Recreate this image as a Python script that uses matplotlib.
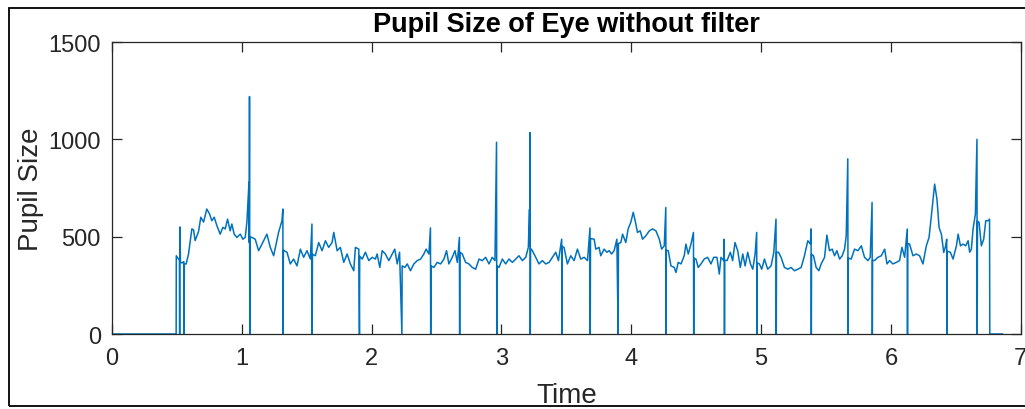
import matplotlib
matplotlib.use("Agg")
import matplotlib.pyplot as plt
from matplotlib.patches import Rectangle

# Pupil trace, split in segments (time, size)
t_a = [0, 0.494, 0.495, 0.512, 0.519, 0.521, 0.523, 0.527, 0.538, 0.553, 0.555, 0.557, 0.571, 0.589,
       0.615, 0.628, 0.640, 0.666, 0.684, 0.705, 0.730, 0.751, 0.769, 0.787, 0.808, 0.833, 0.854, 0.872,
       0.890, 0.910, 0.923, 0.941, 0.962, 0.988, 1.008, 1.026, 1.039, 1.055, 1.057, 1.059, 1.061, 1.063,
       1.078]
p_a = [0, 0, 402, 385, 380, 0, 550, 370, 365, 372, 0, 360, 360, 410,
       540, 535, 480, 525, 600, 575, 642, 617, 582, 600, 556, 513, 548, 540,
       590, 530, 565, 513, 496, 513, 487, 496, 575, 780, 470, 1220, 0, 500,
       496]

t_b = [1.103, 1.129, 1.155, 1.193, 1.219, 1.245, 1.283, 1.309, 1.316, 1.318, 1.320, 1.348, 1.373, 1.399,
       1.425, 1.451, 1.476, 1.502, 1.528, 1.540, 1.542, 1.544, 1.566, 1.592, 1.618, 1.644, 1.669, 1.695,
       1.708, 1.734, 1.759, 1.785, 1.811, 1.836, 1.862, 1.875, 1.901, 1.906, 1.908, 1.927, 1.952, 1.978,
       2.004, 2.029, 2.042, 2.063]
p_b = [487, 428, 462, 513, 445, 402, 522, 582, 642, 0, 430, 420, 360, 385,
       350, 436, 394, 428, 385, 565, 0, 410, 402, 470, 428, 479, 445, 470,
       522, 428, 445, 368, 411, 360, 325, 445, 436, 0, 400, 385, 420, 377,
       394, 385, 411, 342]

t_c = [2.081, 2.106, 2.132, 2.158, 2.178, 2.197, 2.215, 2.233, 2.235, 2.256, 2.274, 2.299, 2.325, 2.351,
       2.377, 2.402, 2.420, 2.441, 2.453, 2.455, 2.457, 2.479, 2.505, 2.531, 2.557, 2.577, 2.595, 2.621,
       2.642, 2.660, 2.676, 2.678, 2.680, 2.698, 2.724, 2.749, 2.775, 2.801, 2.827, 2.852, 2.878, 2.904,
       2.929, 2.950, 2.962, 2.964, 2.966, 2.981, 3.007, 3.032, 3.058, 3.084, 3.110, 3.135, 3.161, 3.187,
       3.207, 3.216, 3.218, 3.220, 3.222, 3.224, 3.238, 3.264, 3.289, 3.315, 3.341, 3.367, 3.393, 3.418,
       3.439, 3.464, 3.466, 3.468, 3.482, 3.508, 3.534, 3.560, 3.585, 3.611, 3.637, 3.663, 3.682, 3.684,
       3.686]
p_c = [428, 411, 377, 411, 436, 360, 420, 0, 350, 342, 360, 325, 360, 377,
       385, 411, 436, 411, 545, 0, 350, 342, 368, 360, 385, 428, 360, 394,
       428, 368, 496, 0, 420, 411, 368, 360, 342, 333, 385, 377, 394, 360,
       394, 377, 985, 0, 350, 342, 385, 360, 385, 368, 385, 402, 377, 394,
       445, 640, 450, 1035, 0, 440, 428, 394, 360, 377, 360, 368, 394, 420,
       377, 487, 0, 450, 445, 360, 402, 377, 436, 385, 394, 377, 545, 0,
       490]

t_d = [3.714, 3.727, 3.752, 3.765, 3.791, 3.812, 3.830, 3.848, 3.868, 3.889, 3.899, 3.901, 3.920, 3.933,
       3.958, 3.976, 3.997, 4.015, 4.030, 4.048, 4.069, 4.087, 4.113, 4.139, 4.164, 4.190, 4.216, 4.234,
       4.254, 4.266, 4.268, 4.270, 4.285, 4.306, 4.331, 4.344, 4.362, 4.383, 4.408, 4.421, 4.439, 4.460,
       4.479, 4.481, 4.483, 4.498, 4.516, 4.537, 4.562, 4.588, 4.614, 4.635, 4.660, 4.678, 4.691, 4.712,
       4.716, 4.718, 4.720, 4.738, 4.763, 4.781, 4.799, 4.820, 4.840, 4.859, 4.877, 4.897, 4.918, 4.936,
       4.954, 4.966, 4.968, 4.970, 4.987, 5.005, 5.026, 5.051, 5.077, 5.098, 5.115, 5.117, 5.119, 5.134,
       5.154, 5.180, 5.206, 5.231, 5.257, 5.283, 5.309, 5.334, 5.360, 5.380]
p_d = [487, 436, 445, 402, 436, 420, 428, 411, 428, 487, 0, 465, 470, 513,
       470, 540, 575, 625, 582, 522, 530, 487, 505, 530, 540, 530, 487, 436,
       453, 650, 0, 430, 428, 350, 342, 316, 368, 360, 402, 462, 411, 462,
       522, 0, 390, 385, 342, 360, 385, 394, 360, 394, 394, 308, 394, 377,
       487, 0, 380, 377, 420, 377, 470, 428, 342, 411, 350, 420, 360, 333,
       411, 522, 0, 365, 360, 333, 385, 333, 350, 420, 590, 0, 420, 420,
       394, 342, 333, 342, 325, 333, 342, 402, 479, 462]

t_e = [5.385, 5.387, 5.389, 5.404, 5.424, 5.445, 5.463, 5.489, 5.507, 5.527, 5.548, 5.566, 5.584, 5.605,
       5.625, 5.643, 5.656, 5.668, 5.670, 5.672, 5.694, 5.720, 5.746, 5.772, 5.797, 5.823, 5.841, 5.855,
       5.857, 5.859, 5.874, 5.900, 5.926, 5.952, 5.970, 5.990, 6.016, 6.042, 6.067, 6.085, 6.106, 6.126,
       6.128, 6.130, 6.144, 6.170, 6.196, 6.221, 6.247, 6.273, 6.294, 6.312, 6.337, 6.355, 6.371, 6.389,
       6.407, 6.422, 6.430, 6.432, 6.434, 6.458, 6.479, 6.505, 6.518, 6.536, 6.556, 6.576, 6.595, 6.607,
       6.620, 6.633, 6.651, 6.663, 6.665, 6.667, 6.679, 6.697, 6.715, 6.731, 6.749, 6.760, 6.762, 6.860]
p_e = [540, 0, 410, 402, 342, 325, 360, 394, 508, 428, 436, 402, 428, 385,
       402, 436, 505, 900, 0, 390, 385, 436, 428, 453, 394, 377, 394, 676,
       0, 380, 377, 394, 402, 436, 360, 377, 360, 368, 377, 445, 394, 539,
       0, 465, 462, 402, 411, 402, 360, 453, 496, 608, 770, 693, 548, 513,
       419, 453, 487, 0, 425, 420, 385, 453, 513, 453, 462, 453, 479, 420,
       436, 539, 616, 1000, 0, 580, 574, 453, 487, 582, 582, 590, 0, 0]

time = t_a + t_b + t_c + t_d + t_e
pupil = p_a + p_b + p_c + p_d + p_e

x_ticks = [0, 1, 2, 3, 4, 5, 6, 7]
y_ticks = [0, 500, 1000, 1500]

plt.rcParams['font.family'] = ['Liberation Sans', 'DejaVu Sans']

fig = plt.figure(figsize=(10.25, 4.10), dpi=100)
ax = fig.add_axes([0.1093, 0.1829, 0.8865, 0.7122])

ax.plot(time, pupil, color='#0072BD', linewidth=1.1)

ax.set_xlim(0, 7)
ax.set_ylim(0, 1500)
ax.set_xticks(x_ticks)
ax.set_yticks(y_ticks)

gray = '#262626'
for s in ax.spines.values():
    s.set_color(gray)
    s.set_linewidth(0.9)
ax.tick_params(direction='in', length=7, width=0.9, colors=gray, labelsize=17,
               top=True, right=True)
ax.tick_params(axis='x', pad=9)
ax.tick_params(axis='y', pad=8)

ax.set_title('Pupil Size of Eye without filter', fontsize=19.5, fontweight='bold', pad=8)
ax.set_xlabel('Time', fontsize=20, color=gray, labelpad=10)
ax.set_ylabel('Pupil Size', fontsize=20, color=gray, labelpad=3)

# screenshot border round the whole figure (right edge falls off the picture)
fig.patches.append(Rectangle((0.0088, 0.0073), 1.0, 0.9707, transform=fig.transFigure,
                             fill=False, edgecolor='black', linewidth=1.3))

fig.savefig('out.png', dpi=100)
